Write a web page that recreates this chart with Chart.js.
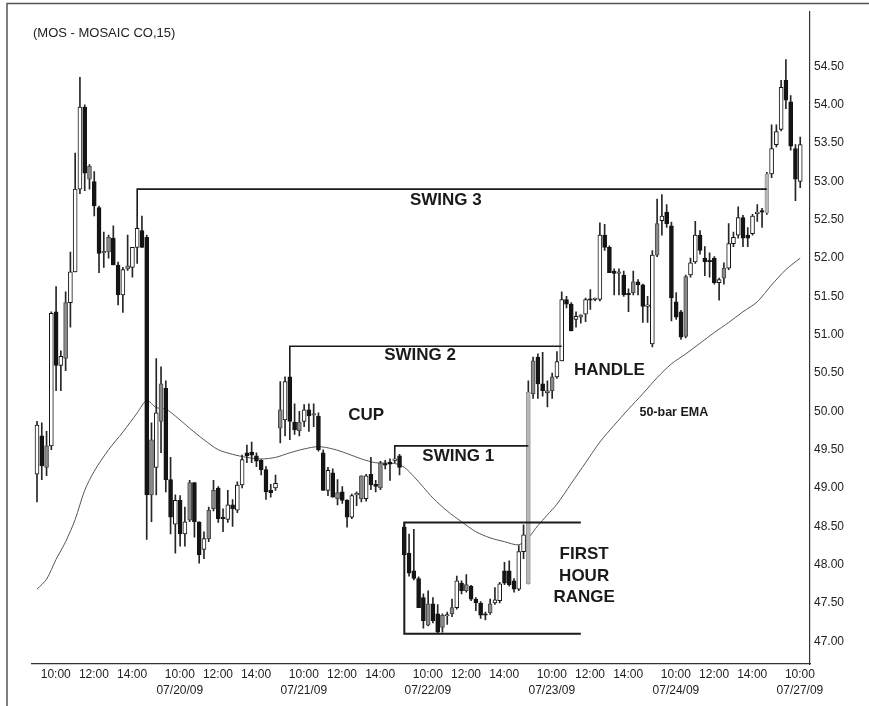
<!DOCTYPE html>
<html>
<head>
<meta charset="utf-8">
<script src="https://cdn.jsdelivr.net/npm/chart.js@4.4.1/dist/chart.umd.min.js"></script>
<style>
  html, body { margin: 0; padding: 0; background: #fff; }
  #wrap { width: 869px; height: 706px; }
</style>
</head>
<body>
<div id="wrap"><canvas id="chart" width="869" height="706"></canvas></div>
<script>
// MOS 15 min bars, 07/17/09 - 07/27/09
const opens = [
  49.18, 49.68, 49.55, 49.55, 51.30, 50.60, 50.69, 51.42, 51.82, 52.90,
  53.97, 53.03, 53.00, 52.66, 52.07, 52.08, 52.26, 51.91, 51.52, 51.86,
  51.88, 52.14, 52.36, 52.27, 49.63, 49.27, 49.87, 50.30, 49.11, 48.53,
  48.84, 48.40, 48.58, 49.07, 48.56, 48.20, 48.34, 48.73, 49.00, 48.62,
  48.59, 48.78, 48.71, 49.04, 49.46, 49.47, 49.42, 49.36, 49.24, 48.97,
  49.00, 50.02, 49.89, 50.45, 49.86, 49.86, 49.87, 50.02, 49.95, 49.94,
  49.46, 48.97, 49.20, 48.94, 48.95, 48.84, 48.62, 48.91, 48.86, 48.86,
  49.18, 49.05, 49.00, 49.32, 49.34, 49.36, 49.42, 48.49, 48.15, 47.92,
  47.82, 47.57, 47.49, 47.49, 47.36, 47.34, 47.33, 47.44, 47.44, 47.76,
  47.74, 47.72, 47.55, 47.50, 47.36, 47.49, 47.50, 47.53, 47.92, 47.92,
  47.79, 47.68, 48.17, 47.75, 50.23, 50.71, 50.36, 50.24, 50.27, 50.45,
  50.66, 51.46, 51.40, 51.20, 51.23, 51.27, 51.47, 51.46, 51.46, 52.30,
  52.14, 51.83, 51.81, 51.78, 51.53, 51.55, 51.69, 51.65, 51.37, 50.88,
  52.04, 52.49, 52.60, 52.42, 51.43, 51.30, 50.98, 51.78, 51.95, 52.30,
  52.00, 51.97, 52.00, 51.68, 51.74, 51.87, 52.19, 52.30, 52.53, 52.30,
  52.32, 52.58, 52.62, 52.59, 53.10, 53.48, 53.68, 54.32, 54.04, 53.43,
  53.00
];
const highs = [
  49.87, 49.85, 49.74, 51.30, 51.63, 50.79, 51.56, 52.08, 53.37, 54.36,
  54.00, 53.22, 53.13, 52.68, 52.34, 52.30, 52.42, 51.95, 51.88, 52.30,
  51.95, 52.55, 52.55, 52.30, 49.85, 50.69, 50.58, 50.40, 49.40, 48.91,
  48.90, 48.75, 49.10, 49.07, 48.56, 48.43, 48.75, 49.10, 49.02, 48.73,
  48.97, 48.85, 49.08, 49.43, 49.56, 49.60, 49.46, 49.37, 49.28, 49.05,
  49.17, 50.39, 50.45, 50.48, 50.10, 50.00, 50.09, 50.10, 50.10, 49.98,
  49.50, 49.27, 49.25, 49.11, 49.02, 48.85, 48.92, 48.95, 49.16, 49.18,
  49.40, 49.10, 49.35, 49.36, 49.38, 49.46, 49.44, 48.55, 48.40, 48.46,
  47.84, 47.62, 47.66, 47.57, 47.48, 47.36, 47.38, 47.55, 47.85, 47.79,
  47.87, 47.73, 47.57, 47.52, 47.38, 47.55, 47.70, 47.77, 48.03, 48.05,
  47.82, 48.25, 48.52, 50.40, 50.71, 50.75, 50.77, 50.40, 50.50, 50.78,
  51.56, 51.50, 51.42, 51.30, 51.26, 51.48, 51.59, 51.48, 52.46, 52.44,
  52.16, 51.86, 51.86, 51.83, 51.60, 51.83, 51.72, 51.66, 51.50, 52.10,
  52.77, 52.83, 52.70, 52.47, 51.55, 51.32, 51.78, 52.00, 52.48, 52.36,
  52.15, 52.07, 52.02, 51.74, 51.94, 52.45, 52.34, 52.67, 52.56, 52.40,
  52.57, 52.70, 52.65, 53.12, 53.74, 53.74, 54.32, 54.59, 54.12, 53.48,
  53.58
];
const lows = [
  48.82, 49.11, 49.16, 49.50, 50.27, 50.27, 50.53, 51.10, 51.82, 52.84,
  52.88, 52.90, 52.55, 51.81, 51.88, 52.00, 51.91, 51.39, 51.29, 51.84,
  51.75, 51.93, 52.14, 48.33, 48.56, 48.91, 49.46, 48.95, 48.40, 48.15,
  48.24, 48.24, 48.56, 48.36, 48.02, 48.08, 48.30, 48.70, 48.55, 48.43,
  48.55, 48.50, 48.68, 49.00, 49.33, 49.33, 49.28, 49.17, 48.85, 48.88,
  48.97, 49.59, 49.68, 49.63, 49.70, 49.68, 49.80, 49.74, 49.80, 49.48,
  48.97, 48.90, 48.88, 48.78, 48.80, 48.49, 48.60, 48.77, 48.82, 48.83,
  48.98, 48.95, 48.98, 49.25, 49.10, 49.33, 49.17, 48.12, 47.85, 47.80,
  47.44, 47.17, 47.20, 47.24, 47.10, 47.12, 47.22, 47.32, 47.42, 47.62,
  47.64, 47.53, 47.40, 47.30, 47.28, 47.35, 47.48, 47.50, 47.74, 47.72,
  47.64, 47.66, 48.08, 47.75, 50.17, 50.17, 50.20, 50.06, 50.17, 50.43,
  50.66, 51.35, 51.05, 51.10, 51.15, 51.17, 51.33, 51.44, 51.44, 52.10,
  51.81, 51.52, 51.52, 51.50, 51.30, 51.52, 51.52, 51.16, 51.16, 50.84,
  52.02, 52.30, 52.40, 51.18, 51.20, 50.94, 50.96, 51.75, 51.93, 52.05,
  51.77, 51.75, 51.66, 51.45, 51.66, 51.85, 52.15, 52.26, 52.15, 52.15,
  52.30, 52.48, 52.40, 52.57, 53.05, 53.45, 53.66, 53.95, 53.41, 52.75,
  52.92
];
const closes = [
  49.82, 49.29, 49.27, 51.28, 50.60, 50.72, 51.42, 51.82, 52.90, 53.97,
  53.11, 53.20, 52.68, 52.06, 52.08, 52.27, 51.91, 51.52, 51.85, 51.90,
  52.14, 52.39, 52.14, 48.91, 48.91, 49.98, 50.36, 49.11, 48.62, 48.84,
  48.40, 48.56, 49.07, 48.56, 48.13, 48.34, 48.71, 48.97, 48.60, 48.60,
  48.78, 48.73, 49.04, 49.37, 49.42, 49.43, 49.35, 49.24, 48.95, 48.94,
  49.06, 49.78, 50.39, 49.87, 49.76, 49.75, 50.02, 49.94, 49.97, 49.50,
  48.97, 49.23, 48.88, 48.86, 48.84, 48.62, 48.90, 48.93, 49.16, 49.16,
  49.04, 49.02, 49.33, 49.30, 49.31, 49.38, 49.27, 48.13, 47.89, 47.82,
  47.44, 47.27, 47.21, 47.27, 47.12, 47.18, 47.34, 47.36, 47.79, 47.66,
  47.66, 47.55, 47.50, 47.34, 47.34, 47.37, 47.54, 47.75, 47.76, 47.74,
  47.68, 48.17, 48.39, 50.25, 50.66, 50.36, 50.27, 50.27, 50.45, 50.65,
  51.46, 51.40, 51.05, 51.24, 51.26, 51.46, 51.45, 51.46, 52.30, 52.14,
  51.81, 51.80, 51.80, 51.52, 51.52, 51.69, 51.65, 51.37, 51.38, 52.04,
  52.45, 52.55, 52.45, 51.48, 51.23, 50.97, 51.76, 51.94, 52.30, 52.10,
  51.95, 51.95, 51.68, 51.72, 51.87, 52.19, 52.27, 52.53, 52.26, 52.26,
  52.55, 52.60, 52.60, 53.10, 53.43, 53.65, 54.23, 54.06, 53.46, 53.03,
  53.48
];
// body shade of each bar as printed: w white, b black, g gray, l light gray
const tones = ('wbgwbwgwww' + 'bgbbggbbwg' + 'wwbbgwgbbw' + 'bwgbbwggbb' +
  'wbwwbbbbbb' + 'wgwbbgwbgb' + 'bwbgbbwwgw' + 'bbgbbwbbbb' +
  'bbgbbgwgwb' + 'gbbbbgwwbb' + 'bwwlgbbwgw' + 'wbbwgwbwwb' +
  'bbgbbgbbww' + 'gwbbbbgwwb' + 'bbbwgwwwbb' + 'wwblwwwbbb' + 'w').split('');

// 50-bar EMA, read at these bars
const emaBars = [0, 2, 4, 6, 8, 10, 12, 15, 18, 21, 23, 25, 27, 29, 32, 35, 38, 41, 44, 47,
  50, 53, 56, 59, 62, 65, 68, 71, 75, 77, 79, 81, 83, 86, 89, 92, 95, 98, 101, 103,
  105, 107, 109, 112, 115, 118, 121, 124, 127, 130, 133, 136, 139, 142, 145, 148, 151, 154, 157, 160];
const emaValues = [47.68, 47.81, 48.07, 48.30, 48.59, 48.97, 49.22, 49.50, 49.73, 49.98,
  50.14, 50.05, 50.03, 49.94, 49.78, 49.63, 49.50, 49.44, 49.40, 49.38,
  49.40, 49.46, 49.51, 49.54, 49.51, 49.45, 49.38, 49.33, 49.32, 49.27,
  49.15, 49.01, 48.87, 48.70, 48.56, 48.43, 48.35, 48.30, 48.26, 48.35,
  48.51, 48.65, 48.79, 49.06, 49.33, 49.60, 49.82, 50.03, 50.23, 50.44,
  50.62, 50.75, 50.89, 51.03, 51.16, 51.30, 51.43, 51.65, 51.85, 52.00];

// swing highs drawn on the chart
const swingLevels = [49.55, 50.85, 52.90];
const swingFrom = [75, 53, 21];
const swingTo = [103, 110, 153];

// first hour range box on 07/22
const rangeDayOpen = 77;
const rangeFirstHourBars = 4;
const rangeDayBars = 26;
const rangeTo = 114;

const priceTicks = [47, 47.5, 48, 48.5, 49, 49.5, 50, 50.5, 51, 51.5, 52, 52.5, 53, 53.5, 54, 54.5];
const sessionOpens = [-1, 25, 51, 77, 103, 129, 155];
const sessionDates = ['07/17/09', '07/20/09', '07/21/09', '07/22/09', '07/23/09', '07/24/09', '07/27/09'];
const tickTimes = ['10:00', '12:00', '14:00'];
const tickBarsAfterOpen = [2, 10, 18];

const lastBar = closes.length - 1;
const timeTicks = [];
sessionOpens.forEach((open, d) => {
  tickBarsAfterOpen.forEach((k, t) => {
    const bar = open + k;
    if (bar > lastBar + 1) return;
    const label = (t === 0 && d > 0) ? [tickTimes[t], sessionDates[d]] : tickTimes[t];
    timeTicks.push({ value: bar, label: label });
  });
});

const fillFor = { w: '#ffffff', b: '#141414', g: '#8a8a8a', l: '#b8b8b8' };
const edgeFor = { w: '#141414', b: '#141414', g: '#4a4a4a', l: '#9a9a9a' };

const bodies = opens.map((o, i) => ({ x: i, y: [o, closes[i]] }));
const wicks = lows.map((l, i) => ({ x: i, y: [l, highs[i]] }));
const ema = emaBars.map((b, i) => ({ x: b, y: emaValues[i] }));

const lineStyle = {
  type: 'line', borderColor: '#1a1a1a', borderWidth: 1.6, pointRadius: 0,
  tension: 0, fill: false, order: 0
};

const swingSets = swingLevels.map((lvl, i) => Object.assign({}, lineStyle, {
  data: [
    { x: swingFrom[i], y: highs[swingFrom[i]] },
    { x: swingFrom[i], y: lvl },
    { x: swingTo[i], y: lvl }
  ]
}));

const rangeTop = Math.max(...highs.slice(rangeDayOpen, rangeDayOpen + rangeFirstHourBars));
const rangeBottom = Math.min(...lows.slice(rangeDayOpen, rangeDayOpen + rangeDayBars));
const rangeBox = Object.assign({}, lineStyle, {
  borderWidth: 2,
  data: [
    { x: rangeTo, y: rangeTop },
    { x: rangeDayOpen, y: rangeTop },
    { x: rangeDayOpen, y: rangeBottom },
    { x: rangeTo, y: rangeBottom }
  ]
});

const notes = [
  { text: 'SWING 3', bar: 85.7, price: 52.76, size: 17 },
  { text: 'SWING 2', bar: 80.3, price: 50.73, size: 17 },
  { text: 'CUP', bar: 69, price: 49.95, size: 17 },
  { text: 'SWING 1', bar: 88.3, price: 49.41, size: 17 },
  { text: 'HANDLE', bar: 120, price: 50.53, size: 17 },
  { text: '50-bar EMA', bar: 133.5, price: 49.99, size: 12.5 },
  { text: 'FIRST', bar: 114.7, price: 48.14, size: 17 },
  { text: 'HOUR', bar: 114.7, price: 47.85, size: 17 },
  { text: 'RANGE', bar: 114.7, price: 47.57, size: 17 }
];

const fontFam = '"Liberation Sans", Arial, Helvetica, sans-serif';

const overlay = {
  id: 'overlay',
  afterDraw(chart) {
    const { ctx } = chart;
    const xs = chart.scales.x, ys = chart.scales.y;
    ctx.save();
    // page frame
    ctx.strokeStyle = '#555';
    ctx.lineWidth = 1.5;
    ctx.beginPath();
    ctx.moveTo(7, 706);
    ctx.lineTo(7, 3.5);
    ctx.lineTo(869, 3.5);
    ctx.stroke();
    // title
    ctx.fillStyle = '#222';
    ctx.font = '13px ' + fontFam;
    ctx.textAlign = 'left';
    ctx.textBaseline = 'middle';
    ctx.fillText('(MOS - MOSAIC CO,15)', 33, 33);
    // notes
    ctx.textAlign = 'center';
    notes.forEach(n => {
      ctx.font = 'bold ' + n.size + 'px ' + fontFam;
      ctx.fillStyle = '#1a1a1a';
      ctx.fillText(n.text, xs.getPixelForValue(n.bar), ys.getPixelForValue(n.price));
    });
    ctx.restore();
  }
};

new Chart(document.getElementById('chart'), {
  type: 'bar',
  data: {
    datasets: [
      {
        data: bodies,
        backgroundColor: tones.map(t => fillFor[t]),
        borderColor: tones.map(t => edgeFor[t]),
        borderWidth: 1,
        borderSkipped: false,
        barThickness: 4,
        minBarLength: 1.5,
        grouped: false,
        order: 1
      },
      {
        data: wicks,
        backgroundColor: '#262626',
        borderWidth: 0,
        barThickness: 1,
        grouped: false,
        order: 2
      },
      Object.assign({}, lineStyle, {
        data: ema, borderColor: '#555', borderWidth: 1, tension: 0.3, order: 3
      }),
      ...swingSets,
      rangeBox
    ]
  },
  options: {
    responsive: false,
    devicePixelRatio: 1,
    animation: false,
    layout: { padding: { left: 32, top: 3, right: 0, bottom: 0 } },
    plugins: { legend: { display: false }, tooltip: { enabled: false } },
    scales: {
      x: {
        type: 'linear',
        offset: false,
        min: -1.05,
        max: 162.05,
        grid: { display: false, drawTicks: false },
        border: { display: true, color: '#333', width: 1.2 },
        afterBuildTicks: scale => { scale.ticks = timeTicks.map(t => ({ value: t.value })); },
        afterFit: scale => { scale.height = 42; },
        ticks: {
          autoSkip: false,
          maxRotation: 0,
          padding: 3,
          labelOffset: 14,
          color: '#222',
          font: { family: fontFam, size: 12, lineHeight: 1.3 },
          callback: (value, i) => timeTicks[i] ? timeTicks[i].label : ''
        }
      },
      y: {
        position: 'right',
        min: 46.704,
        max: 55.222,
        grid: { display: false, drawTicks: false },
        border: { display: true, color: '#333', width: 1.2 },
        afterBuildTicks: scale => { scale.ticks = priceTicks.map(v => ({ value: v })); },
        afterFit: scale => { scale.width = 59; },
        ticks: {
          padding: 4,
          color: '#222',
          font: { family: fontFam, size: 12 },
          callback: v => Number(v).toFixed(2)
        }
      }
    }
  },
  plugins: [overlay]
});
</script>
</body>
</html>
